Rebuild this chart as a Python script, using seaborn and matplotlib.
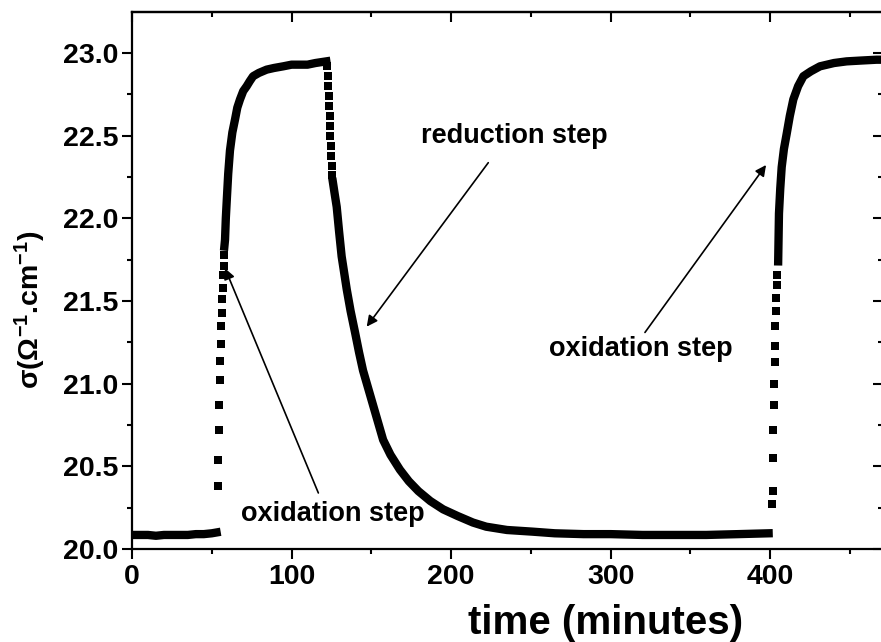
import numpy as np
import pandas as pd
import matplotlib
matplotlib.use("Agg")
import matplotlib.pyplot as plt
from matplotlib.ticker import MultipleLocator
import seaborn as sns

# ---- data (time in minutes, sigma in S/cm) ----
base1_t = [0, 5, 10, 15, 20, 25, 30, 35, 40, 45, 50, 53]
base1_s = [20.085, 20.085, 20.085, 20.08, 20.085, 20.085, 20.085, 20.085, 20.09, 20.09, 20.095, 20.10]

jump1_t = [54.0, 54.2, 54.5, 54.7, 55.0, 55.3, 55.6, 56.0, 56.3, 56.7, 57.0, 57.3, 57.5, 57.8]
jump1_s = [20.38, 20.54, 20.72, 20.87, 21.02, 21.14, 21.24, 21.35, 21.43, 21.51, 21.58, 21.66, 21.71, 21.78]

rise1_t = [57.9, 58.3, 58.8, 59.4, 60.3, 61.4, 62.9, 64.6, 66.0, 67.7, 69.7, 71.9, 73.8, 75.9,
           79.5, 84.4, 89.0, 94.8, 100, 105, 110, 115, 121.8]
rise1_s = [21.83, 21.87, 22.00, 22.11, 22.27, 22.41, 22.52, 22.60, 22.67, 22.72, 22.77, 22.80, 22.83, 22.86,
           22.88, 22.90, 22.91, 22.92, 22.93, 22.93, 22.93, 22.94, 22.95]

drop1_t = [122.4, 122.6, 122.9, 123.2, 123.5, 123.8, 124.1, 124.4, 124.7, 125.0, 125.3, 125.6]
drop1_s = [22.92, 22.86, 22.80, 22.74, 22.68, 22.62, 22.56, 22.50, 22.44, 22.38, 22.32, 22.26]

decay1_t = [125.9, 127.0, 128.3, 129.8, 131.4, 133.0, 134.6, 137.0, 139.8, 142.3, 144.8, 147.5,
            150.2, 153.5, 157.4, 162.0, 167.9, 173.5, 179.5, 187.0, 195.0, 204.0, 213.7, 222.0,
            235.0, 251.0, 265.0, 283.0, 300.0, 320.0, 340.0, 360.0, 380.0, 399.0]
decay1_s = [22.22, 22.15, 22.07, 21.92, 21.77, 21.67, 21.57, 21.44, 21.31, 21.19, 21.08, 20.99,
            20.90, 20.79, 20.66, 20.57, 20.48, 20.41, 20.35, 20.29, 20.24, 20.20, 20.16, 20.135,
            20.115, 20.105, 20.095, 20.09, 20.09, 20.085, 20.085, 20.085, 20.09, 20.095]

jump2_t = [401.3, 401.5, 401.6, 401.9, 402.1, 402.3, 402.7, 402.8, 403.2, 403.6, 403.8, 404.2, 404.4]
jump2_s = [20.27, 20.35, 20.55, 20.72, 20.87, 21.00, 21.13, 21.23, 21.35, 21.44, 21.52, 21.60, 21.66]

rise2_t = [405.0, 405.5, 406.3, 407.2, 408.6, 410.3, 412.3, 414.5, 417.5, 420.8, 425.5, 431.2,
           440.0, 447.9, 457.0, 466.7, 472.0]
rise2_s = [21.74, 22.03, 22.18, 22.31, 22.42, 22.51, 22.62, 22.72, 22.80, 22.86, 22.89, 22.92,
           22.94, 22.95, 22.955, 22.96, 22.96]

x_ticks = [0, 100, 200, 300, 400]
y_ticks = [20.0, 20.5, 21.0, 21.5, 22.0, 22.5, 23.0]

# ---- style ----
sns.set_theme(style="ticks")
plt.rcParams["font.family"] = ["Liberation Sans", "DejaVu Sans"]
plt.rcParams["font.weight"] = "bold"
plt.rcParams["axes.labelweight"] = "bold"
plt.rcParams["axes.labelcolor"] = "black"
plt.rcParams["text.color"] = "black"
plt.rcParams["xtick.color"] = "black"
plt.rcParams["ytick.color"] = "black"
plt.rcParams["mathtext.default"] = "regular"

fig = plt.figure(figsize=(8.81, 6.42), dpi=100)
ax = fig.add_axes([132 / 881, 1 - 549 / 642, (882.6 - 132) / 881, (549 - 12) / 642])

line_kw = dict(color="black", linewidth=6.0, solid_capstyle="projecting", solid_joinstyle="round")
for t, s in [(base1_t, base1_s), (rise1_t, rise1_s), (decay1_t, decay1_s), (rise2_t, rise2_s)]:
    df = pd.DataFrame({"t": t, "s": s})
    sns.lineplot(data=df, x="t", y="s", ax=ax, sort=False, estimator=None, legend=False, **line_kw)

for t, s in [(jump1_t, jump1_s), (drop1_t, drop1_s), (jump2_t, jump2_s)]:
    df = pd.DataFrame({"t": t, "s": s})
    sns.scatterplot(data=df, x="t", y="s", ax=ax, marker="s", s=28, color="black",
                    linewidth=0, legend=False)

xmax = (882.6 - 132) / 1.5955
ax.set_xlim(0, xmax)
ax.set_ylim(20.0, 20.0 + (549 - 12) / 165.3)
ax.set_xticks(x_ticks)
ax.set_yticks(y_ticks)
ax.xaxis.set_minor_locator(MultipleLocator(50))
ax.yaxis.set_minor_locator(MultipleLocator(0.25))
ax.set_xticklabels([str(v) for v in x_ticks])
ax.set_yticklabels([f"{v:.1f}" for v in y_ticks])

for sp in ax.spines.values():
    sp.set_linewidth(1.6)
    sp.set_color("black")
    sp.set_visible(True)

ax.tick_params(axis="both", which="major", direction="out", length=7, width=1.5,
               labelsize=20.5, colors="black", labelcolor="black")
ax.tick_params(axis="both", which="minor", direction="out", length=3.8, width=1.5, colors="black")
ax.tick_params(axis="x", which="both", pad=4)
ax.tick_params(axis="y", which="both", pad=3)
for lab in ax.get_xticklabels() + ax.get_yticklabels():
    lab.set_fontweight("bold")

# mirrored inward ticks on top and right
top = ax.secondary_xaxis("top")
top.set_xticks(x_ticks)
top.xaxis.set_minor_locator(MultipleLocator(50))
top.tick_params(which="major", direction="in", length=7, width=1.5, labeltop=False)
top.tick_params(which="minor", direction="in", length=3.5, width=1.5)
top.spines["top"].set_linewidth(1.6)
top.spines["top"].set_color("black")
right = ax.secondary_yaxis("right")
right.set_yticks(y_ticks)
right.yaxis.set_minor_locator(MultipleLocator(0.25))
right.tick_params(which="major", direction="in", length=7, width=1.5, labelright=False)
right.tick_params(which="minor", direction="in", length=3.5, width=1.5)

ax.set_xlabel("time (minutes)", fontsize=29, fontweight="bold", color="black")
ax.xaxis.set_label_coords((606 - 132) / 750.6, -(604 - 549) / 537)
ax.set_ylabel("σ(Ω$^{-1}$.cm$^{-1}$)", fontsize=20.5, fontweight="bold", color="black")
ax.yaxis.set_label_coords(-(132 - 48) / 750.6, (549 - 310) / 537)

txt_kw = dict(fontsize=19.5, fontweight="bold", color="black", ha="center", va="center")
ax.text(239.4, 22.50, "reduction step", **txt_kw)
ax.text(125.7, 20.21, "oxidation step", **txt_kw)
ax.text(318.7, 21.21, "oxidation step", **txt_kw)

arrow_kw = dict(arrowstyle="-|>", color="black", lw=1.2, mutation_scale=16, shrinkA=0, shrinkB=0)
ax.annotate("", xy=(147.1, 21.345), xytext=(223.3, 22.337), arrowprops=arrow_kw)
ax.annotate("", xy=(58.3, 21.698), xytext=(116.8, 20.339), arrowprops=arrow_kw)
ax.annotate("", xy=(397.4, 22.323), xytext=(321.5, 21.31), arrowprops=arrow_kw)

fig.savefig("out.png", dpi=100)
